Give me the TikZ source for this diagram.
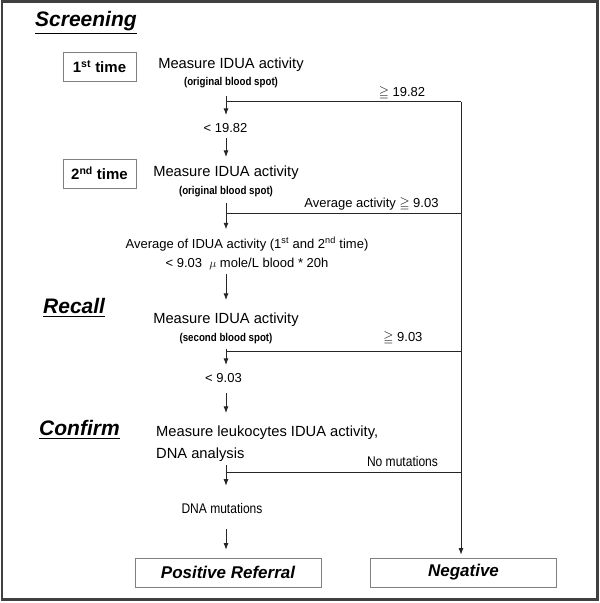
\documentclass[tikz,border=0pt]{standalone}
\usepackage{amssymb}
\usepackage{fontspec}
\setmainfont{Liberation Sans}
\newfontfamily\narrowfont[FakeStretch=0.86]{Liberation Sans}
\usetikzlibrary{arrows.meta,positioning}

\tikzset{
  frame/.style={draw=black!75, line width=2.2pt},
  phase/.style={anchor=base west, inner sep=0, font=\bfseries\itshape\fontsize{21}{24}\selectfont},
  timebox/.style={draw=black!50, line width=0.8pt, minimum width=73pt, minimum height=29pt,
    inner sep=0, font=\bfseries\fontsize{15}{17}\selectfont},
  result/.style={draw=black!50, line width=0.8pt, minimum width=186pt, minimum height=29pt,
    inner sep=0, font=\bfseries\itshape\fontsize{17}{19}\selectfont},
  measure/.style={inner sep=0, font=\fontsize{14.7}{22}\selectfont},
  spot/.style={inner sep=0, font=\narrowfont\bfseries\fontsize{11.3}{13}\selectfont},
  cond/.style={inner sep=0, font=\fontsize{13}{19}\selectfont},
  note/.style={inner sep=0, font=\narrowfont\fontsize{14}{16}\selectfont},
  flow/.style={-{Latex[length=6.5pt,width=5pt]}, draw=black!85, line width=0.8pt},
  branch/.style={draw=black!85, line width=0.8pt},
}

\begin{document}
\begin{tikzpicture}[x=1pt,y=-1pt]
  \useasboundingbox (0,0) rectangle (600,603);
  \draw[frame] (2,1.5) rectangle (597.5,599.5);

  % phases
  \node[phase] (screen)  at (35,26)    {\underline{Screening}};
  \node[phase] (recall)  at (43,313.5) {\underline{Recall}};
  \node[phase] (confirm) at (39,435.5) {\underline{Confirm}};

  % first measurement
  \node[timebox] (first) at (99.5,66.5)  {1\textsuperscript{st} time};
  \node[measure] (m1)    at (231,64.5)   {Measure IDUA activity};
  \node[spot]    (s1)    [below=6pt of m1] {(original blood spot)};
  \node[cond]    (lt1)   at (225.5,128)  {< 19.82};

  % second measurement
  \node[timebox] (second) at (99.5,173.5) {2\textsuperscript{nd} time};
  \node[measure] (m2)     at (226,173)    {Measure IDUA activity};
  \node[spot]    (s2)     [below=6pt of m2] {(original blood spot)};
  \node[cond, align=center] (avg) at (247,253.5)
    {Average of IDUA activity (1\textsuperscript{st} and 2\textsuperscript{nd} time)\\
     < 9.03~~$\mu$ mole/L blood * 20h};

  % recall
  \node[measure] (m3)  at (226,320)   {Measure IDUA activity};
  \node[spot]    (s3)  [below=6pt of m3] {(second blood spot)};
  \node[cond]    (lt3) at (223.5,378) {< 9.03};

  % confirm
  \node[measure, anchor=west, align=left] (m4) at (156,444)
    {Measure leukocytes IDUA activity,\\ DNA analysis};
  \node[note] (dna) at (222,508) {DNA mutations};

  % outcomes
  \node[result] (pos) at (228,572.5)   {Positive Referral};
  \node[result] (neg) at (463.5,572.5) {Negative};

  % main line, right rail and junctions
  \coordinate (spine) at (226,0);
  \coordinate (rail)  at (461,0);
  \coordinate (j1) at (226,101.5);
  \coordinate (j2) at (226,213.3);
  \coordinate (j3) at (226,351.5);
  \coordinate (j4) at (226,472.7);

  \path
    (s1.south -| spine)  edge[flow, shorten <=7.1pt, shorten >=8.3pt] (lt1.north -| spine)
    (lt1.south -| spine) edge[flow, shorten <=5.3pt, shorten >=9pt]   (m2.north -| spine)
    (s2.south -| spine)  edge[flow, shorten <=5.6pt, shorten >=7.9pt] (avg.north -| spine)
    (avg.south -| spine) edge[flow, shorten <=3.9pt, shorten >=13pt]  (m3.north -| spine)
    (s3.south -| spine)  edge[flow, shorten <=4.6pt, shorten >=8.3pt] (lt3.north -| spine)
    (lt3.south -| spine) edge[flow, shorten <=10.3pt, shorten >=13pt] (m4.north -| spine)
    (m4.south -| spine)  edge[flow, shorten <=3pt, shorten >=17pt]    (dna.north -| spine)
    (dna.south -| spine) edge[flow, shorten <=16pt, shorten >=8pt]    (pos.north -| spine)
    ;

  \draw[branch] (j1) -- node[cond, above=1.5pt, pos=.749] {$\geqq$ 19.82} (j1 -| rail);
  \draw[branch] (j2) -- node[cond, above=2.5pt, pos=.619] {Average activity $\geqq$ 9.03} (j2 -| rail);
  \draw[branch] (j3) -- node[cond, above=6pt, pos=.753] {$\geqq$ 9.03} (j3 -| rail);
  \draw[branch] (j4) -- node[note, above=6pt, pos=.751] {No mutations} (j4 -| rail);
  \draw[flow, shorten >=3pt] (j1 -| rail) -- (neg.north -| rail);
\end{tikzpicture}
\end{document}
